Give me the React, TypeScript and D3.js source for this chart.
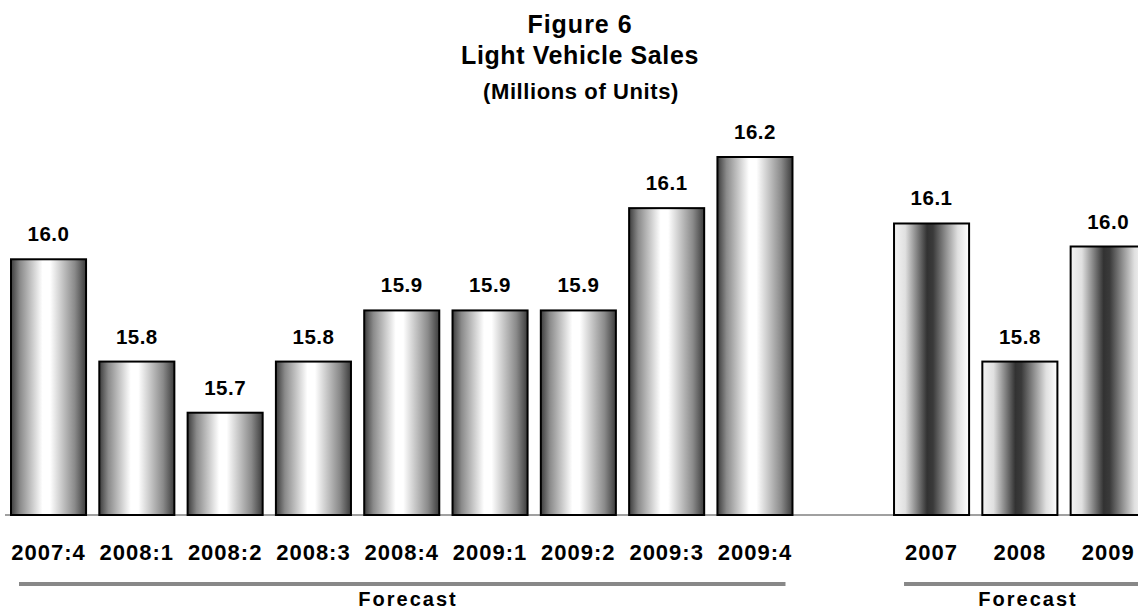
import React from "react";
import * as d3 from "d3";

const quarterLabels = ["2007:4", "2008:1", "2008:2", "2008:3", "2008:4", "2009:1", "2009:2", "2009:3", "2009:4"];
const quarterValues = [16.0, 15.8, 15.7, 15.8, 15.9, 15.9, 15.9, 16.1, 16.2];
const annualLabels = ["2007", "2008", "2009"];
const annualValues = [16.07, 15.8, 16.025];
const titleLines = ["Figure 6", "Light Vehicle Sales", "(Millions of Units)"];
const forecastLabel = "Forecast";

const W = 1138;
const H = 610;
const FONT = "'Liberation Sans', Arial, Helvetica, sans-serif";

export default function App() {
  const spacer = "__gap__";
  const domain = [...quarterLabels, spacer, ...annualLabels];
  const x = d3.scaleBand<string>().domain(domain).range([11, 1145.7]).paddingInner(0.15).paddingOuter(0);
  const y = d3.scaleLinear().domain([15.5, 16.2]).range([515, 157]);
  const fmt = d3.format(".1f");
  const bw = x.bandwidth();

  const quarters = quarterLabels.map((l, i) => ({ l, v: quarterValues[i], kind: "q" }));
  const annuals = annualLabels.map((l, i) => ({ l, v: annualValues[i], kind: "a" }));
  const all = [...quarters, ...annuals];

  const qStart = (x(quarterLabels[0]) as number) + 8;
  const qEnd = (x(quarterLabels[quarterLabels.length - 1]) as number) + bw - 7;
  const aStart = (x(annualLabels[0]) as number) + 10;
  const aEnd = W + 10;

  return (
    <svg width={W} height={H} style={{ position: "absolute", left: 0, top: 0, background: "#fff" }}>
      <defs>
        <linearGradient id="gq" x1="0" x2="1" y1="0" y2="0">
          <stop offset="0" stopColor="#3c3c3c" />
          <stop offset="0.12" stopColor="#8a8a8a" />
          <stop offset="0.42" stopColor="#ffffff" />
          <stop offset="0.52" stopColor="#ffffff" />
          <stop offset="0.85" stopColor="#8a8a8a" />
          <stop offset="1" stopColor="#3c3c3c" />
        </linearGradient>
        <linearGradient id="ga" x1="0" x2="1" y1="0" y2="0">
          <stop offset="0" stopColor="#f4f4f4" />
          <stop offset="0.15" stopColor="#e0e0e0" />
          <stop offset="0.44" stopColor="#323232" />
          <stop offset="0.52" stopColor="#3a3a3a" />
          <stop offset="0.85" stopColor="#e0e0e0" />
          <stop offset="1" stopColor="#ffffff" />
        </linearGradient>
      </defs>

      <g fontFamily={FONT} fontWeight="bold" textAnchor="middle" fill="#000">
        <text x={580} y={33} fontSize={25} letterSpacing={1}>{titleLines[0]}</text>
        <text x={580} y={64} fontSize={25} letterSpacing={0.6}>{titleLines[1]}</text>
        <text x={581} y={99} fontSize={22} letterSpacing={0.6}>{titleLines[2]}</text>
      </g>

      <line x1={5} x2={W} y1={515} y2={515} stroke="#808080" strokeWidth={1.5} />

      {all.map((d) => {
        const bx = x(d.l) as number;
        const top = y(d.v);
        return (
          <g key={d.l}>
            <rect
              x={bx}
              y={top}
              width={bw}
              height={515 - top}
              fill={d.kind === "q" ? "url(#gq)" : "url(#ga)"}
              stroke="#000"
              strokeWidth={2}
            />
            <text
              x={bx + bw / 2}
              y={top - 18}
              fontFamily={FONT}
              fontWeight="bold"
              fontSize={20.5}
              letterSpacing={0.5}
              textAnchor="middle"
            >
              {fmt(d.v)}
            </text>
            <text
              x={bx + bw / 2}
              y={560}
              fontFamily={FONT}
              fontWeight="bold"
              fontSize={22}
              letterSpacing={1}
              textAnchor="middle"
            >
              {d.l}
            </text>
          </g>
        );
      })}

      <line x1={qStart} x2={qEnd} y1={584} y2={584} stroke="#888" strokeWidth={4} />
      <line x1={aStart} x2={aEnd} y1={584} y2={584} stroke="#888" strokeWidth={4} />
      <g fontFamily={FONT} fontWeight="bold" fontSize={20} letterSpacing={2} textAnchor="middle">
        <text x={408} y={606}>{forecastLabel}</text>
        <text x={1028} y={606}>{forecastLabel}</text>
      </g>
    </svg>
  );
}
